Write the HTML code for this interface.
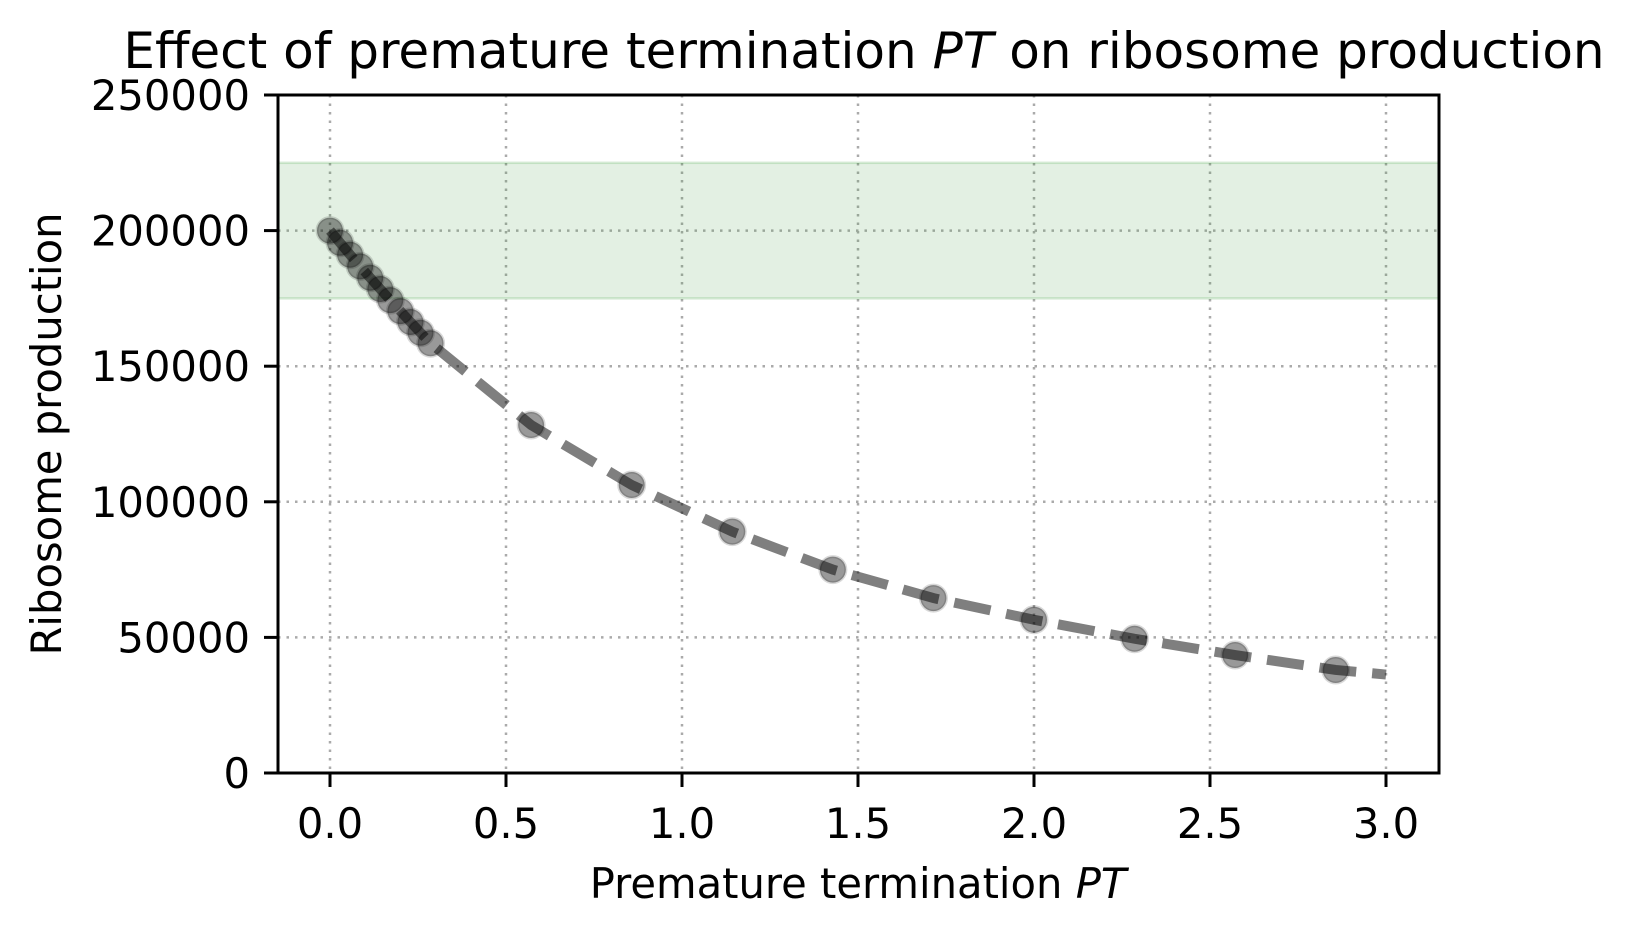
<!DOCTYPE html>
<html><head><meta charset="utf-8">
<style>
html,body{margin:0;padding:0;background:#fff;}
svg{display:block;font-family:"DejaVu Sans","Liberation Sans",sans-serif;}
</style></head>
<body>
<svg id="chart" width="1630" height="934" viewBox="0 0 1630 934" xmlns="http://www.w3.org/2000/svg">
<rect width="1630" height="934" fill="#fff"/>
<g id="grid"></g>
<g id="band"></g>
<g id="series"></g>
<g id="axes"></g>
<text x="864" y="68" font-size="50" text-anchor="middle">Effect of premature termination <tspan font-style="italic">PT</tspan> on ribosome production</text>
<text x="858" y="898" font-size="41.7" text-anchor="middle">Premature termination <tspan font-style="italic">PT</tspan></text>
<text transform="translate(61,434) rotate(-90)" font-size="41.7" text-anchor="middle">Ribosome production</text>
</svg>
<script>
const xTicks = [0.0, 0.5, 1.0, 1.5, 2.0, 2.5, 3.0];
const xTickLabels = ["0.0","0.5","1.0","1.5","2.0","2.5","3.0"];
const yTicks = [0, 50000, 100000, 150000, 200000, 250000];
const yTickLabels = ["0","50000","100000","150000","200000","250000"];
const bandRange = [175000, 225000];
const pointX = [0,0.0286,0.0571,0.0857,0.1143,0.1429,0.1714,0.2,0.2286,0.2571,0.2857,0.5714,0.8571,1.1429,1.4286,1.7143,2.0,2.2857,2.5714,2.8571];
const pointY = [200000,195500,191100,186800,182600,178450,174350,170300,166300,162350,158450,128300,106200,89000,75000,64500,56500,49500,43500,38000];
const lineX = [0,0.0286,0.0571,0.0857,0.1143,0.1429,0.1714,0.2,0.2286,0.2571,0.2857,0.5714,0.8571,1.1429,1.4286,1.7143,2.0,2.2857,2.5714,2.8571,3.0];
const lineY = [200000,195500,191100,186800,182600,178450,174350,170300,166300,162350,158450,128300,106200,89000,75000,64500,56500,49500,43500,38000,36300];

const L=278, R=1439, T=95, B=773;
const x0px=330, x3px=1386;
const sx = v => x0px + v*(x3px-x0px)/3;
const sy = v => B - v*(B-T)/250000;
const NS="http://www.w3.org/2000/svg";
function mk(tag, parent, attrs){const e=document.createElementNS(NS,tag);for(const k in attrs)e.setAttribute(k,attrs[k]);parent.appendChild(e);return e;}
const grid=document.getElementById('grid'), band=document.getElementById('band'), series=document.getElementById('series'), axes=document.getElementById('axes');

xTicks.forEach((t,i)=>{
  const g=mk('line',grid,{x1:sx(t),x2:sx(t),y1:T,y2:B,stroke:'#aaa','stroke-width':2.5,'stroke-dasharray':'2.5 6'});
  
  
  mk('line',axes,{x1:sx(t),x2:sx(t),y1:B,y2:B+14,stroke:'#000','stroke-width':3});
  const tx=mk('text',axes,{x:sx(t),y:838,'font-size':41.7,'text-anchor':'middle'});
  tx.textContent=xTickLabels[i];
  
  
});
yTicks.forEach((t,i)=>{
  const g=mk('line',grid,{x1:L,x2:R,y1:sy(t),y2:sy(t),stroke:'#aaa','stroke-width':2.5,'stroke-dasharray':'2.5 6'});
  
  
  mk('line',axes,{x1:L-14,x2:L,y1:sy(t),y2:sy(t),stroke:'#000','stroke-width':3});
  const tx=mk('text',axes,{x:L-28,y:sy(t)+15,'font-size':41.7,'text-anchor':'end'});
  tx.textContent=yTickLabels[i];
  
  
});
const br=mk('rect',band,{x:L,y:sy(bandRange[1]),width:R-L,height:sy(bandRange[0])-sy(bandRange[1]),fill:'rgba(60,150,60,0.14)',stroke:'rgba(60,160,60,0.2)','stroke-width':2.5});



const pts=lineX.map((x,i)=>sx(x)+','+sy(lineY[i])).join(' ');
const pl=mk('polyline',series,{points:pts,fill:'none',stroke:'#000','stroke-opacity':0.5,'stroke-width':10,'stroke-dasharray':'37 16'});


pointX.forEach((x,i)=>{
  const c=mk('circle',series,{cx:sx(x),cy:sy(pointY[i]),r:13,fill:'rgba(0,0,0,0.4)',stroke:'rgba(0,0,0,0.15)','stroke-width':3});
  
  
});
const fr=mk('rect',axes,{x:L,y:T,width:R-L,height:B-T,fill:'none',stroke:'#000','stroke-width':3});


</script>
</body></html>
